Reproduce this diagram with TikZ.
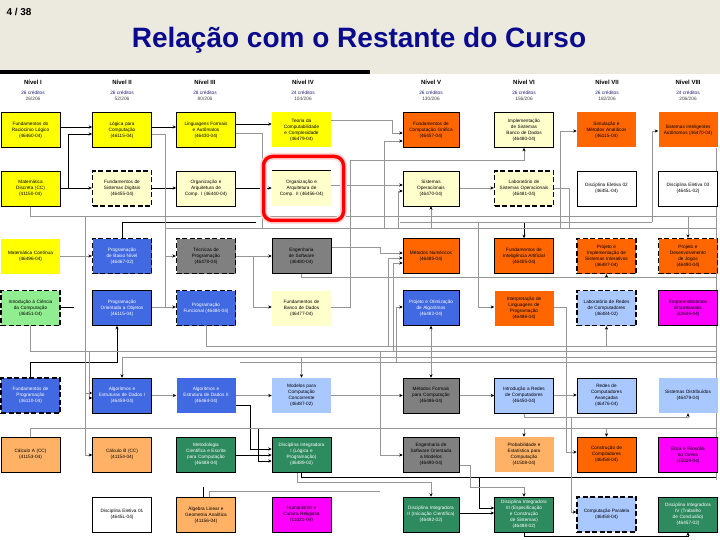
\documentclass[tikz,border=0pt]{standalone}
\usepackage{fontspec}
\setmainfont{Liberation Sans}
\usetikzlibrary{arrows.meta}
\pgfdeclarelayer{bgzero}
\pgfdeclarelayer{lines}
\pgfsetlayers{bgzero,lines,main}
\definecolor{bg}{RGB}{236,233,222}
\definecolor{ttl}{RGB}{10,10,140}
\definecolor{cY}{RGB}{255,255,0}
\definecolor{cLY}{RGB}{255,255,204}
\definecolor{cO}{RGB}{255,102,0}
\definecolor{cLO}{RGB}{255,178,102}
\definecolor{cB}{RGB}{65,105,225}
\definecolor{cLB}{RGB}{168,200,255}
\definecolor{cG}{RGB}{128,128,128}
\definecolor{cLG}{RGB}{144,238,144}
\definecolor{cDG}{RGB}{46,139,96}
\definecolor{cM}{RGB}{255,0,255}
\definecolor{lgray}{RGB}{150,150,150}
\definecolor{credc}{RGB}{30,30,120}
\tikzset{
 box/.style={draw=black, line width=0.6pt, minimum width=59pt, minimum height=35pt, text width=50pt, align=center, inner sep=1pt, font=\fontsize{4.7}{6}\selectfont, execute at begin node={\hyphenpenalty=10000\exhyphenpenalty=10000}},
 dbox/.style={box, line width=1.4pt, dash pattern=on 5pt off 2.5pt},
 nb/.style={box, draw=none},
 wt/.style={text=white},
 nw/.style={minimum width=56pt, text width=48pt},
 gl/.style={draw=lgray, line width=0.5pt},
 bl/.style={draw=black, line width=0.7pt},
 ar/.style={-{Stealth[length=3.5pt,width=3.2pt,color=black]}},
 hdr/.style={font=\fontsize{6}{7}\selectfont\bfseries},
 cred/.style={font=\fontsize{4.8}{5.6}\selectfont, align=center},
}
\begin{document}
\begin{tikzpicture}[x=1pt,y=-1pt]
\useasboundingbox (0,0) rectangle (720,540);
\begin{pgfonlayer}{bgzero}
\fill[bg] (0,0) rectangle (720,540);
\fill[white] (0,74) rectangle (720,540);
\fill[black] (0,70) rectangle (370,74);
\end{pgfonlayer}
\node[anchor=west, font=\fontsize{10}{12}\selectfont\bfseries] (pg) at (3,12) {4 / 38};
\node[font=\fontsize{28}{32}\selectfont\bfseries, text=ttl] (title) at (359,40) {Relação com o Restante do Curso};
% headers
\foreach \x/\n/\c/\t in {33/I/26/26, 122/II/26/52, 205/III/28/80, 303/IV/24/104, 431/V/26/130, 524/VI/26/156, 607/VII/26/182, 688/VIII/24/206}{
 \node[hdr] (h\n) at (\x,82) {Nível \n};
 \node[cred] (c\n) at (\x,96) {\textcolor{credc}{\c{} créditos}\\\textcolor{darkgray}{\t/206}};
}
% highlight
\node[draw=red!15, line width=7pt, rounded corners=9pt, minimum width=80pt, minimum height=64pt] (hlglow) at (303.5,188.5) {};
\node[draw=red, line width=3.5pt, rounded corners=9pt, minimum width=80pt, minimum height=64pt] (hl) at (303.5,188.5) {};
% row 1
\node[box,fill=cY] (frl) at (30.5,130) {Fundamentos do Raciocínio Lógico\\(46460-04)};
\node[box,fill=cY] (lpc) at (122,130) {Lógica para Computação\\(46115-04)};
\node[box,fill=cY] (lfa) at (206,130) {Linguagens Formais e Autômatos\\(46430-04)};
\node[nb,fill=cY] (tcc) at (301.5,130) {Teoria da Computabilidade e Complexidade\\(46479-04)};
\node[box,nw,fill=cO] (fcg) at (431,130) {Fundamentos de Computação Gráfica\\(46457-04)};
\node[box,fill=cLY] (isbd) at (524,130) {Implementação de Sistemas Banco de Dados\\(46480-04)};
\node[nb,fill=cO] (sma) at (606.5,130) {Simulação e Métodos Analíticos\\(46115-04)};
\node[nb,fill=cO] (sia) at (688,130) {Sistemas Inteligentes Autônomos (46470-04)};
% row 2
\node[box,fill=cY] (md) at (30.5,188.5) {Matemática Discreta (CC)\\(41150-04)};
\node[dbox,fill=cLY] (fsd) at (122,188.5) {Fundamentos de Sistemas Digitais\\(46455-04)};
\node[box,fill=cLY] (oac1) at (206,188.5) {Organização e Arquitetura de Comp. I (46440-04)};
\node[nb,fill=cLY] (oac2) at (301.5,188.5) {Organização e Arquitetura de Comp. II (46456-04)};
\draw[bl] (oac2.north west) -- (oac2.north east);
\node[box,nw,fill=cLY] (so) at (431,188.5) {Sistemas Operacionais\\(46470-04)};
\node[dbox,fill=cLY] (lso) at (524,188.5) {Laboratório de Sistemas Operacionais\\(46481-04)};
\node[box,fill=white] (el2) at (606.5,188.5) {Disciplina Eletiva 02\\(4645L-04)};
\node[box,fill=white] (el3) at (688,188.5) {Disciplina Eletiva 03\\(4645L-02)};
% row 3
\node[nb,fill=cY] (mc) at (30.5,256) {Matemática Contínua\\(46496-04)};
\node[dbox,fill=cB,wt] (pbn) at (122,256) {Programação de Baixo Nível\\(46467-02)};
\node[dbox,fill=cG] (tp) at (206,256) {Técnicas de Programação\\(46478-04)};
\node[box,fill=cG] (es) at (301.5,256) {Engenharia de Software\\(46480-04)};
\node[box,nw,fill=cO] (mn) at (431,256) {Métodos Numéricos\\(46485-04)};
\node[box,fill=cO] (fia) at (524,256) {Fundamentos de Inteligência Artificial\\(46405-04)};
\node[dbox,fill=cO] (pisi) at (606.5,256) {Projeto e Implementação de Sistemas Interativos\\(46487-04)};
\node[dbox,fill=cO] (pdj) at (688,256) {Projeto e Desenvolvimento de Jogos\\(46490-04)};
% row 4
\node[dbox,fill=cLG] (icc) at (30.5,308) {Introdução à Ciência da Computação\\(46451-04)};
\node[box,fill=cB,wt] (poo) at (122,308) {Programação Orientada a Objetos\\(46115-04)};
\node[dbox,fill=cB,wt] (pf) at (206,308) {Programação Funcional (46484-04)};
\node[nb,fill=cLY] (fbd) at (301.5,308) {Fundamentos de Banco de Dados\\(46477-04)};
\node[box,nw,fill=cB,wt] (poa) at (431,308) {Projeto e Otimização de Algoritmos\\(46482-04)};
\node[nb,fill=cO] (ilp) at (524,308) {Interpretação de Linguagens de Programação\\(46486-04)};
\node[dbox,fill=cLB] (lrc) at (606.5,308) {Laboratório de Redes de Computadores\\(46484-02)};
\node[box,fill=cM] (emp) at (688,308) {Empreendimentos Empresariais\\(22646-04)};
% row 5
\node[dbox,fill=cB,wt] (fp) at (30.5,395.5) {Fundamentos de Programação\\(46110-04)};
\node[box,fill=cB,wt] (aed1) at (122,395.5) {Algoritmos e Estruturas de Dados I\\(46459-04)};
\node[nb,fill=cB,wt] (aed2) at (206,395.5) {Algoritmos e Estrutura de Dados II\\(46464-04)};
\node[nb,fill=cLB] (mcc) at (301.5,395.5) {Modelos para Computação Concorrente\\(46487-02)};
\node[box,nw,fill=cG] (mfc) at (431,395.5) {Métodos Formais para Computação\\(46486-04)};
\node[box,fill=cLB] (irc) at (524,395.5) {Introdução a Redes de Computadores\\(46450-04)};
\node[box,fill=cLB] (rca) at (606.5,395.5) {Redes de Computadores Avançadas\\(46476-04)};
\node[nb,fill=cLB] (sd) at (688,395.5) {Sistemas Distribuídos\\(46479-04)};
% row 6
\node[box,fill=cLO] (calca) at (30.5,454.5) {Cálculo A (CC)\\(41153-04)};
\node[box,fill=cLO] (calcb) at (122,454.5) {Cálculo B (CC)\\(41154-04)};
\node[box,fill=cDG,wt] (met) at (206,454.5) {Metodologia Científica e Escrita para Computação\\(46488-04)};
\node[box,fill=cDG,wt] (di1) at (301.5,454.5) {Disciplina Integradora I (Lógica e Programação)\\(46489-02)};
\node[box,nw,fill=cG] (esom) at (431,454.5) {Engenharia de Software Orientada a Modelos\\(46490-04)};
\node[nb,fill=cLO] (pe) at (524,454.5) {Probabilidade e Estatística para Computação\\(41508-04)};
\node[box,fill=cO] (cc) at (606.5,454.5) {Construção de Compiladores\\(46458-04)};
\node[box,fill=cM] (efd) at (688,454.5) {Ética e Filosofia no Direito\\(15029-04)};
% row 7
\node[box,fill=white] (el1) at (122,514.5) {Disciplina Eletiva 01\\(4645L-04)};
\node[box,fill=cLO] (alga) at (206,514.5) {Álgebra Linear e Geometria Analítica\\(41156-04)};
\node[box,fill=cM] (hcr) at (301.5,514.5) {Humanismo e Cultura Religiosa\\(11021-04)};
\node[box,nw,fill=cDG,wt] (di2) at (431,514.5) {Disciplina Integradora II (Iniciação Científica)\\(46492-02)};
\node[box,fill=cDG,wt] (di3) at (524,514.5) {Disciplina Integradora III (Especificação e Construção de Sistemas)\\(46488-02)};
\node[dbox,fill=cLB] (cp) at (606.5,514.5) {Computação Paralela\\(46458-04)};
\node[box,fill=cDG,wt] (di4) at (688,514.5) {Disciplina Integradora IV (Trabalho de Conclusão)\\(46457-02)};

\begin{pgfonlayer}{lines}
% black connectors
\draw[bl,ar] (frl.east|-0,127) -- (lpc.west|-0,127);
\draw[bl,ar] (md.east|-0,188) -- (fsd.west|-0,188);
\draw[bl,ar] (68,188) |- (lpc.west|-0,134);
\draw[bl,ar] (lpc.east|-0,127) -- (lfa.west|-0,127);
\draw[bl,ar] (fsd.east|-0,188) -- (oac1.west|-0,188);
\draw[bl,ar] (lfa.east|-0,124) -- (tcc.west|-0,124);
\draw[bl,ar] (oac1.east|-0,188) -- (oac2.west|-0,188);
\draw[bl] (pbn.north) |- (256,222);
\draw[bl] (icc.east|-0,307) -- (74,307);
\draw[bl,ar] (fp.north) |- (117,362) -- (poo.south-|117,0);
\draw[bl,ar] (fia.north|-0,222) -- (fia.north);
\draw[bl,ar] (aed2.east|-0,405) -| (250,449) -- (di1.west|-0,449);
\draw[bl,ar] (met.east|-0,455) -- (di1.west|-0,455);
\draw[bl,ar] (258,428) |- (di1.west|-0,461);
\draw[bl,ar] (di1.south) |- (479,477) |- (di3.west|-0,508);
\draw[bl] (479,477) -- (716,477);
\draw[bl,ar] (di2.east|-0,513) -- (di3.west|-0,513);
\draw[bl,ar] (di3.south) |- (688,536) -- (di4.south);
\draw[bl] (alga.north-|203,0) -- (203,487);
% gray connectors
\draw[gl] (lfa.east|-0,133) -| (262,228);
\draw[gl,ar] (lpc.east|-0,134) -| (165,256) -- (tp.west|-0,256);
\draw[gl] (165,256) -- (165,307);
\draw[gl,ar] (poo.east|-0,307) -- (pf.west|-0,307);
\draw[gl] (md.south) |- (716,216);
\draw[gl] (166,228) -- (716,228);
\draw[gl,ar] (oac2.east|-0,185) -- (so.west|-0,185);
\draw[gl,ar] (tcc.east|-0,120) -| (392,133) -- (fcg.west|-0,133);
\draw[gl,ar] (384,228) |- (fcg.west|-0,141);
\draw[gl,ar] (398,228) |- (so.west|-0,191);
\draw[gl,ar] (so.east|-0,188) -- (lso.west|-0,188);
\draw[gl,ar] (so.south|-0,228) -- (so.south);
\draw[gl,ar] (fbd.east|-0,307) -| (350,160) -| (isbd.south);
\draw[gl] (lso.east|-0,188) -| (569,228);
\draw[gl,ar] (560,228) |- (sma.west|-0,131);
\draw[gl] (400,222) -- (652,222);
\draw[gl,ar] (652,222) |- (sia.west|-0,131);
\draw[gl,ar] (pdj.north|-0,216) -- (pdj.north);
\draw[gl] (716,148) -- (716,480);
\draw[gl,ar] (mc.east|-0,256) -- (pbn.west|-0,256);
\draw[gl,ar] (85,216) |- (aed1.west|-0,393);
\draw[gl,ar] (85,393) |- (calcb.west|-0,455);
\draw[gl,ar] (89,351) |- (aed1.west|-0,398);
\draw[gl] (icc.south) |- (716,351);
\draw[gl] (pf.south) |- (716,346);
\draw[gl,ar] (716,357) -| (aed1.north);
\draw[gl] (240,362) -- (716,362);
\draw[gl,ar] (tp.east|-0,256) -- (es.west|-0,256);
\draw[gl,ar] (253,256) |- (fbd.west|-0,307);
\draw[gl,ar] (es.east|-0,247) -| (380,253) -- (mn.west|-0,253);
\draw[gl,ar] (388,346) |- (mn.west|-0,258);
\draw[gl,ar] (393,351) |- (mn.west|-0,263);
\draw[gl,ar] (396,362) |- (poa.west|-0,307);
\draw[gl] (es.south) |- (716,277);
\draw[gl,ar] (poa.south|-0,362) -- (poa.south);
\draw[gl,ar] (mfc.north|-0,346) -- (mfc.north);
\draw[gl,ar] (mcc.north|-0,357) -- (mcc.north);
\draw[gl,ar] (478,222) |- (ilp.west|-0,307);
\draw[gl,ar] (ilp.east|-0,307) -| (566,452) -- (cc.west|-0,452);
\draw[gl,ar] (irc.east|-0,395) -- (rca.west|-0,395);
\draw[gl,ar] (571,417) |- (cp.west|-0,512);
\draw[gl,ar] (irc.south) |- (688,417) -- (sd.south);
\draw[gl,ar] (pisi.south|-0,277) -- (pisi.south);
\draw[gl,ar] (lrc.south|-0,346) -- (lrc.south);
\draw[gl,ar] (aed1.east) -- (aed2.west);
\draw[gl,ar] (aed2.east) -- (mcc.west);
\draw[gl,ar] (mcc.east) -- (mfc.west);
\draw[gl,ar] (mfc.east) -- (irc.west);
\draw[gl] (calca.north) |- (716,428);
\draw[gl,ar] (pe.north|-0,428) -- (pe.north);
\draw[gl,ar] (cc.north|-0,428) -- (cc.north);
\draw[gl,ar] (380,351) |- (esom.west|-0,455);
\draw[gl,ar] ([xshift=-4pt]di1.south) |- (di2.north|-0,482) -- (di2.north);
\draw[gl,ar] (esom.east|-0,465) -| (470,487) -| (di3.north);
\draw[gl] ([xshift=3pt]alga.north) |- (380,491);
\end{pgfonlayer}
\end{tikzpicture}
\end{document}
